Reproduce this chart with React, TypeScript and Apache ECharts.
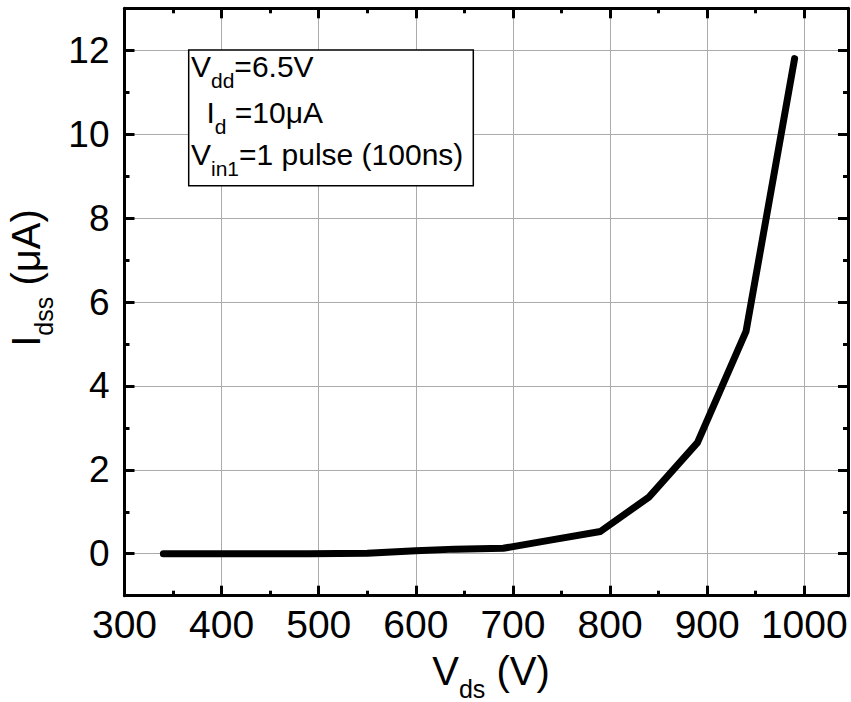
import React, { useEffect, useRef } from "react";
import * as echarts from "echarts";

// ---- data ----
const vds: number[] = [340, 390, 440, 490, 550, 600, 640, 690, 740, 790, 840, 890, 940, 990];
const idss: number[] = [0, 0, 0, 0, 0.01, 0.07, 0.11, 0.13, 0.33, 0.53, 1.35, 2.65, 5.3, 11.8];

const X_MIN = 300;
const X_MAX = 1045;
const Y_MIN = -1;
const Y_MAX = 13;
const xMajor: number[] = [300, 400, 500, 600, 700, 800, 900, 1000];
const xMinor: number[] = [350, 450, 550, 650, 750, 850, 950];
const yMajor: number[] = [0, 2, 4, 6, 8, 10, 12];
const yMinor: number[] = [1, 3, 5, 7, 9, 11];

const noteLines: string[][] = [
  ["V", "dd", "=6.5V"],
  ["I", "d", " =10μA"],
  ["V", "in1", "=1 pulse (100ns)"],
];

const FONT = "'Liberation Sans', Arial, Helvetica, sans-serif";

function richSub(F: number, f: number, H: number, drop: number) {
  const mainBase = H / 2 + 0.3465 * F;
  const subBase = mainBase + drop;
  const p = subBase - f / 2 - 0.3465 * f;
  return {
    base: mainBase,
    rich: {
      m: { fontSize: F, lineHeight: H, verticalAlign: "top", fontFamily: FONT, fill: "#000" },
      s: { fontSize: f, lineHeight: f, verticalAlign: "top", padding: [p, 0, 0, 0], fontFamily: FONT, fill: "#000" },
    },
  };
}

export default function App() {
  const ref = useRef<HTMLDivElement>(null);
  useEffect(() => {
    document.body.style.margin = "0";
    if (!ref.current) return;
    const chart = echarts.init(ref.current, undefined, { renderer: "svg" });

    const axisLineOn = { show: true, onZero: false, lineStyle: { color: "#000", width: 3 } };
    const axisLineOff = { show: false, onZero: false };
    const grid = { color: "#ababab", width: 1 };

    const mkAxis = (pos: string, min: number, max: number, ticks: number[], len: number, line: boolean, labels: any, split: boolean) => ({
      type: "value",
      position: pos,
      min,
      max,
      axisLine: line ? axisLineOn : axisLineOff,
      axisTick: { show: true, inside: true, length: len, lineStyle: { color: "#000", width: 3 }, customValues: ticks },
      axisLabel: labels ? labels : { show: false },
      splitLine: split ? { show: true, lineStyle: grid } : { show: false },
      minorTick: { show: false },
      minorSplitLine: { show: false },
    });

    const xLab = { show: true, customValues: xMajor, fontSize: 39, color: "#000", fontFamily: FONT, margin: 9, formatter: (v: number) => String(v) };
    const yLab = { show: true, customValues: yMajor, fontSize: 37, color: "#000", fontFamily: FONT, margin: 15, formatter: (v: number) => String(v) };

    const box = richSub(30, 21, 36, 8);
    const ttl = richSub(40, 25, 46, 10);
    const lineBase = [80, 125.5, 168];
    const lineX = [191, 206.5, 191];

    const graphics: any[] = [
      {
        type: "rect",
        z: 100,
        shape: { x: 188.7, y: 50, width: 284.6, height: 135.7 },
        style: { fill: "#fff", stroke: "#000", lineWidth: 1.5 },
      },
      ...noteLines.map((ln, i) => ({
        type: "text",
        z: 101,
        x: lineX[i],
        y: lineBase[i] - box.base,
        style: {
          text: `{m|${ln[0]}}{s|${ln[1]}}{m|${ln[2]}}`,
          rich: box.rich,
          align: "left",
          verticalAlign: "top",
        },
      })),
      {
        type: "text",
        z: 101,
        x: 491,
        y: 688 - ttl.base,
        style: { text: "{m|V}{s|ds}{m| (V)}", rich: ttl.rich, align: "center", verticalAlign: "top" },
      },
      {
        type: "text",
        z: 101,
        x: 42.7 - ttl.base,
        y: 278,
        rotation: Math.PI / 2,
        style: { text: "{m|I}{s|dss}{m| (μA)}", rich: ttl.rich, align: "center", verticalAlign: "top" },
      },
    ];

    chart.setOption({
      animation: false,
      backgroundColor: "#fff",
      grid: { left: 124.5, right: 3, top: 8.3, bottom: 106.3, containLabel: false, outerBoundsMode: "none" },
      xAxis: [
        mkAxis("bottom", X_MIN, X_MAX, xMajor, 10, true, xLab, true),
        mkAxis("bottom", X_MIN, X_MAX, xMinor, 5, false, null, false),
        mkAxis("top", X_MIN, X_MAX, xMajor, 10, true, null, false),
        mkAxis("top", X_MIN, X_MAX, xMinor, 5, false, null, false),
      ],
      yAxis: [
        mkAxis("left", Y_MIN, Y_MAX, yMajor, 10, true, yLab, true),
        mkAxis("left", Y_MIN, Y_MAX, yMinor, 5, false, null, false),
        mkAxis("right", Y_MIN, Y_MAX, yMajor, 10, true, null, false),
        mkAxis("right", Y_MIN, Y_MAX, yMinor, 5, false, null, false),
      ],
      series: [
        {
          type: "line",
          xAxisIndex: 0,
          yAxisIndex: 0,
          data: vds.map((v, i) => [v, idss[i]]),
          symbol: "none",
          showSymbol: false,
          lineStyle: { color: "#000", width: 7, cap: "round", join: "round" },
          z: 5,
        },
      ],
      graphic: graphics,
    });
    return () => chart.dispose();
  }, []);
  return <div ref={ref} style={{ width: 851, height: 702 }} />;
}
